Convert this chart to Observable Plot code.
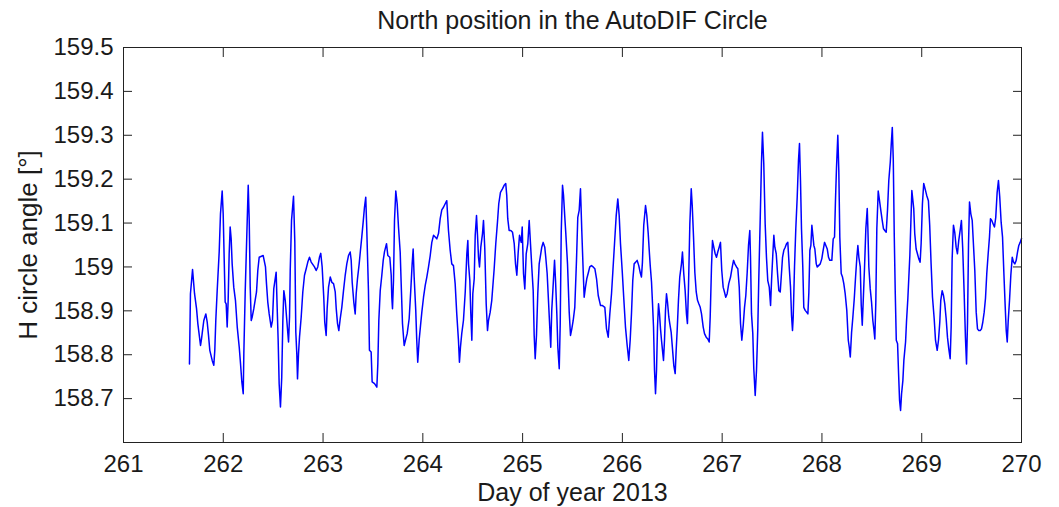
<!DOCTYPE html>
<html><head><meta charset="utf-8">
<script src="https://cdn.jsdelivr.net/npm/d3@7"></script>
<script src="https://cdn.jsdelivr.net/npm/@observablehq/plot@0.6"></script>
<style>
html,body{margin:0;padding:0;background:#fff;}
#chart svg{display:block;}
</style></head><body><div id="chart"></div>
<script>
const titleText = "North position in the AutoDIF Circle";
const xLabel = "Day of year 2013";
const yLabel = "H circle angle [°]";
const xTicks = [261, 262, 263, 264, 265, 266, 267, 268, 269, 270];
const yTicks = [158.7, 158.8, 158.9, 159.0, 159.1, 159.2, 159.3, 159.4, 159.5];

const dayOfYear = [
261.661, 261.671, 261.692, 261.712, 261.732, 261.745, 261.772, 261.782, 261.792, 261.805,
261.825, 261.839, 261.852, 261.865, 261.889, 261.905, 261.915, 261.925, 261.939, 261.959,
261.972, 261.989, 261.999, 262.009, 262.019, 262.029, 262.039, 262.049, 262.059, 262.069,
262.079, 262.089, 262.105, 262.122, 262.140, 262.160, 262.173, 262.186, 262.200, 262.206,
262.220, 262.240, 262.250, 262.260, 262.270, 262.280, 262.290, 262.306, 262.333, 262.346,
262.360, 262.400, 262.423, 262.433, 262.446, 262.460, 262.480, 262.493, 262.506, 262.530,
262.540, 262.550, 262.560, 262.573, 262.586, 262.597, 262.607, 262.621, 262.634, 262.654,
262.664, 262.671, 262.684, 262.704, 262.717, 262.727, 262.737, 262.744, 262.754, 262.764,
262.781, 262.797, 262.814, 262.831, 262.847, 262.864, 262.881, 262.914, 262.931, 262.947,
262.964, 262.977, 262.991, 263.007, 263.017, 263.031, 263.041, 263.055, 263.072, 263.088,
263.105, 263.122, 263.132, 263.145, 263.158, 263.172, 263.188, 263.205, 263.222, 263.238,
263.255, 263.272, 263.282, 263.292, 263.308, 263.322, 263.332, 263.345, 263.362, 263.375,
263.388, 263.402, 263.415, 263.428, 263.438, 263.455, 263.465, 263.482, 263.492, 263.516,
263.539, 263.549, 263.559, 263.573, 263.589, 263.603, 263.616, 263.636, 263.649, 263.669,
263.683, 263.689,
263.696, 263.706, 263.716, 263.729, 263.743, 263.756, 263.773, 263.783, 263.796, 263.813,
263.826, 263.843, 263.863, 263.879, 263.893, 263.903, 263.913, 263.929, 263.939, 263.949,
263.963, 263.977, 263.990, 264.007, 264.024, 264.040, 264.057, 264.074, 264.090, 264.107,
264.124, 264.140, 264.157, 264.174, 264.190, 264.207, 264.224, 264.240, 264.257, 264.274,
264.290, 264.307, 264.324, 264.340, 264.357, 264.367, 264.377, 264.390, 264.407, 264.425,
264.441, 264.451, 264.458, 264.471, 264.481, 264.491, 264.501, 264.515, 264.525, 264.538,
264.548, 264.558, 264.568, 264.581, 264.598, 264.608, 264.621, 264.635, 264.648, 264.658,
264.675, 264.691,
264.715, 264.731, 264.748, 264.761, 264.778, 264.798, 264.815, 264.831, 264.841, 264.851,
264.865, 264.882, 264.899, 264.916, 264.929, 264.942, 264.956, 264.969, 264.986, 264.996,
265.009, 265.022, 265.036, 265.052, 265.066, 265.079, 265.092, 265.106, 265.116, 265.126,
265.139, 265.152, 265.166, 265.179, 265.192, 265.206, 265.222, 265.232, 265.246, 265.259,
265.272, 265.282, 265.292, 265.307, 265.320, 265.330, 265.343, 265.353, 265.367, 265.377,
265.387, 265.400, 265.410, 265.423, 265.433, 265.450, 265.467, 265.480, 265.493, 265.507,
265.523, 265.540, 265.553, 265.567, 265.580, 265.593, 265.607, 265.617, 265.630, 265.643,
265.660, 265.673, 265.690, 265.707, 265.724, 265.741, 265.758,
265.781, 265.801, 265.824, 265.841, 265.858, 265.874, 265.891, 265.904, 265.921, 265.938,
265.954, 265.968, 265.981, 265.998, 266.014, 266.031, 266.048, 266.064, 266.078, 266.091,
266.104, 266.118, 266.134, 266.148, 266.164, 266.181, 266.191, 266.201, 266.214, 266.232,
266.245, 266.259, 266.269, 266.279, 266.292, 266.302, 266.312, 266.322, 266.332, 266.342,
266.352, 266.362, 266.372, 266.382, 266.392, 266.402, 266.412, 266.422, 266.432, 266.442,
266.452, 266.465, 266.475, 266.489, 266.502, 266.515, 266.529, 266.539, 266.549, 266.562,
266.575, 266.592, 266.602, 266.615, 266.629, 266.642, 266.652, 266.662, 266.676, 266.690,
266.700, 266.713, 266.726, 266.740, 266.753, 266.766, 266.780, 266.793, 266.810,
266.823, 266.840, 266.856, 266.870, 266.880, 266.893, 266.903, 266.916, 266.930, 266.943,
266.956, 266.970, 266.983, 266.996, 267.010, 267.023, 267.036, 267.050, 267.066, 267.084,
267.101, 267.114, 267.127, 267.144, 267.157, 267.171, 267.184, 267.197, 267.211, 267.224,
267.237, 267.251, 267.264, 267.277, 267.284, 267.294, 267.307, 267.317, 267.331, 267.344,
267.357, 267.367, 267.381, 267.394, 267.404, 267.417, 267.431, 267.444, 267.457, 267.472,
267.485, 267.495, 267.508, 267.518, 267.528, 267.542, 267.555, 267.568, 267.582, 267.592,
267.605, 267.618, 267.632, 267.645, 267.658, 267.672, 267.685, 267.695, 267.705, 267.712,
267.725, 267.738, 267.752, 267.765, 267.775, 267.785, 267.795, 267.808, 267.818, 267.832,
267.846, 267.859,
267.869, 267.879, 267.889, 267.899, 267.909, 267.919, 267.929, 267.943, 267.953, 267.966,
267.983, 267.999, 268.009, 268.026, 268.039, 268.053, 268.066, 268.079, 268.099, 268.113,
268.126, 268.136, 268.146, 268.159, 268.169, 268.179, 268.193, 268.206, 268.219, 268.233,
268.249, 268.264, 268.274, 268.284, 268.297, 268.310, 268.324, 268.337, 268.350, 268.360,
268.370, 268.384, 268.394, 268.404, 268.414, 268.427, 268.440, 268.454, 268.460, 268.470,
268.484, 268.497, 268.510, 268.520, 268.530, 268.540, 268.550, 268.564, 268.577, 268.590,
268.604, 268.617, 268.630, 268.644, 268.657, 268.670, 268.685, 268.695, 268.705, 268.715,
268.725, 268.735, 268.745, 268.758, 268.768, 268.778, 268.788, 268.798, 268.811, 268.821,
268.838, 268.848, 268.861, 268.881, 268.901,
268.920, 268.930, 268.944, 268.957, 268.970, 268.984, 268.994, 269.007, 269.020, 269.034,
269.050, 269.067, 269.080, 269.094, 269.108, 269.125, 269.138, 269.155, 269.168, 269.181,
269.191, 269.205, 269.218, 269.231, 269.245, 269.258, 269.271, 269.285, 269.295, 269.305,
269.318, 269.331, 269.345, 269.358, 269.371, 269.385, 269.398, 269.411, 269.425, 269.438,
269.449, 269.459, 269.469, 269.479, 269.492, 269.506, 269.519, 269.532, 269.546, 269.559,
269.572, 269.586, 269.599, 269.612, 269.626, 269.639, 269.652, 269.666, 269.679, 269.689,
269.702, 269.716, 269.729, 269.742, 269.756, 269.769, 269.782, 269.796, 269.810, 269.823,
269.837, 269.847, 269.857, 269.867, 269.880, 269.893, 269.907, 269.920, 269.933, 269.947,
269.960, 269.973, 269.987, 270.000
];

const hAngle = [
158.779, 158.939, 158.994, 158.939, 158.905, 158.871, 158.821, 158.836, 158.855, 158.878,
158.893, 158.874, 158.844, 158.810, 158.787, 158.776, 158.810, 158.878, 158.946, 159.034,
159.121, 159.173, 159.121, 159.019, 158.920, 158.916, 158.863, 158.924, 159.030, 159.091,
159.064, 159.007, 158.954, 158.924, 158.863, 158.817, 158.779, 158.738, 158.711, 158.802,
158.946, 159.106, 159.186, 159.106, 158.954, 158.878, 158.886, 158.905, 158.943, 158.992,
159.022, 159.026, 159.000, 158.962, 158.920, 158.893, 158.863, 158.878, 158.950, 158.988,
158.908, 158.833, 158.734, 158.681, 158.749, 158.878, 158.946, 158.924, 158.886, 158.829,
158.886, 158.992, 159.106, 159.161, 159.056, 158.851, 158.802, 158.745, 158.802, 158.840,
158.886, 158.943, 158.981, 158.996, 159.011, 159.022, 159.011, 159.000, 158.992, 159.000,
159.022, 159.031, 159.000, 158.931, 158.874, 158.844, 158.905, 158.954, 158.977, 158.965,
158.962, 158.943, 158.905, 158.871, 158.855, 158.882, 158.908, 158.946, 158.981, 159.007,
159.026, 159.034, 159.015, 158.965, 158.920, 158.893, 158.939, 158.973, 159.007, 159.038,
159.068, 159.102, 159.136, 159.159, 159.087, 158.946, 158.810, 158.806, 158.738, 158.734,
158.726, 158.779, 158.878, 158.946, 158.981, 159.015, 159.035, 159.053, 159.026, 159.022,
158.981, 158.931,
158.905, 158.969, 159.106, 159.173, 159.144, 159.091, 159.034, 158.962, 158.871, 158.821,
158.833, 158.848, 158.882, 158.946, 159.007, 159.041, 158.977, 158.901, 158.833, 158.783,
158.833, 158.867, 158.897, 158.931, 158.958, 158.977, 159.000, 159.026, 159.056, 159.072,
159.068, 159.064, 159.076, 159.110, 159.130, 159.136, 159.144, 159.151, 159.083, 159.038,
159.007, 159.003, 158.962, 158.893, 158.833, 158.783, 158.817, 158.848, 158.878, 158.943,
159.030, 159.060, 159.007, 158.969, 158.893, 158.833, 158.939, 158.973, 159.072, 159.117,
159.072, 159.022, 159.000, 159.045, 159.076, 159.106, 159.041, 158.916, 158.855, 158.878,
158.897, 158.924,
158.996, 159.053, 159.102, 159.144, 159.170, 159.178, 159.186, 159.190, 159.163, 159.110,
159.083, 159.083, 159.079, 159.053, 159.007, 158.981, 159.034, 159.072, 159.056, 159.091,
158.985, 158.950, 159.030, 159.053, 159.106, 159.053, 159.000, 158.946, 158.844, 158.791,
158.844, 158.939, 159.007, 159.026, 159.045, 159.056, 159.045, 159.022, 158.985, 158.924,
158.863, 158.817, 158.901, 158.962, 159.015, 158.969, 158.893, 158.817, 158.768, 158.871,
159.079, 159.186, 159.163, 159.113, 159.076, 159.007, 158.897, 158.844, 158.859, 158.878,
158.908, 159.015, 159.113, 159.129, 159.178, 159.083, 158.992, 158.931, 158.954, 158.973,
158.988, 159.000, 159.003, 159.000, 158.996, 158.973, 158.935,
158.912, 158.912, 158.908, 158.859, 158.840, 158.893, 158.939, 158.988, 159.053, 159.117,
159.155, 159.117, 159.053, 158.992, 158.928, 158.863, 158.821, 158.787, 158.833, 158.893,
158.969, 159.007, 159.011, 159.015, 159.003, 158.985, 158.977, 159.011, 159.095, 159.140,
159.117, 159.076, 159.038, 159.003, 158.965, 158.916, 158.863, 158.764, 158.711, 158.764,
158.863, 158.916, 158.893, 158.859, 158.833, 158.810, 158.787, 158.833, 158.901, 158.939,
158.920, 158.886, 158.871, 158.851, 158.814, 158.776, 158.757, 158.810, 158.855, 158.924,
158.977, 159.007, 159.034, 158.985, 158.946, 158.893, 158.871, 158.950, 159.098, 159.178,
159.140, 159.068, 158.988, 158.943, 158.924, 158.916, 158.908, 158.893, 158.863,
158.848, 158.840, 158.836, 158.829, 158.886, 159.000, 159.060, 159.045, 159.030, 159.022,
159.034, 159.045, 159.056, 158.992, 158.954, 158.943, 158.931, 158.939, 158.962, 158.977,
159.000, 159.015, 159.007, 159.000, 158.996, 158.954, 158.871, 158.833, 158.867, 158.908,
158.935, 158.988, 159.049, 159.083, 159.022, 158.893, 158.848, 158.768, 158.707, 158.764,
158.859, 158.973, 159.106, 159.239, 159.307, 159.235, 159.098, 159.022, 158.969, 158.954,
158.912, 158.969, 159.030, 159.072, 159.045, 159.030, 158.985, 158.946, 158.943, 158.977,
159.022, 159.038, 159.045, 159.053, 159.056, 159.000, 158.954, 158.890, 158.855, 158.886,
159.000, 159.087, 159.159, 159.243, 159.281, 159.197, 159.087, 159.000, 158.908, 158.901,
158.897, 158.893,
158.943, 159.038, 159.049, 159.095, 159.072, 159.049, 159.041, 159.007, 159.000, 159.003,
159.007, 159.019, 159.034, 159.056, 159.049, 159.041, 159.022, 159.015, 159.015, 159.064,
159.068, 159.155, 159.227, 159.300, 159.220, 159.068, 158.985, 158.977, 158.962, 158.939,
158.901, 158.833, 158.817, 158.795, 158.851, 158.886, 158.928, 158.977, 159.022, 159.049,
159.022, 159.000, 158.912, 158.867, 158.924, 159.000, 159.087, 159.133, 159.091, 159.000,
158.950, 158.920, 158.878, 158.859, 158.836, 158.920, 159.087, 159.173, 159.151, 159.129,
159.106, 159.087, 159.083, 159.079, 159.129, 159.197, 159.239, 159.281, 159.318, 159.243,
159.068, 158.939, 158.833, 158.825, 158.757, 158.696, 158.673, 158.711, 158.741, 158.787,
158.829, 158.878, 158.928, 159.026, 159.174,
159.133, 159.076, 159.041, 159.030, 159.019, 159.011, 159.053, 159.144, 159.190, 159.178,
159.163, 159.151, 159.095, 159.007, 158.931, 158.882, 158.833, 158.810, 158.833, 158.874,
158.924, 158.946, 158.935, 158.916, 158.882, 158.840, 158.814, 158.791, 158.863, 159.019,
159.095, 159.079, 159.045, 159.030, 159.060, 159.083, 159.106, 159.041, 158.943, 158.840,
158.779, 158.874, 159.053, 159.148, 159.121, 159.106, 159.049, 158.992, 158.897, 158.859,
158.855, 158.855, 158.859, 158.874, 158.897, 158.928, 158.985, 159.030, 159.068, 159.110,
159.106, 159.098, 159.091, 159.113, 159.170, 159.197, 159.159, 159.102, 159.068, 158.988,
158.908, 158.855, 158.829, 158.878, 158.924, 158.981, 159.022, 159.011, 159.007, 159.015,
159.034, 159.049, 159.056, 159.065
];

const n = Math.min(dayOfYear.length, hAngle.length);
const series = d3.range(n).map(i => ({day: dayOfYear[i], angle: hAngle[i]}));

const font = "'Liberation Sans', Arial, Helvetica, sans-serif";
const ink = "#1a1a1a";
const axisInk = "#222";

const chart = Plot.plot({
  width: 1059,
  height: 507,
  marginLeft: 123,
  marginRight: 38,
  marginTop: 47,
  marginBottom: 65,
  style: {fontFamily: font, background: "#fff", color: ink, overflow: "visible"},
  x: {domain: [261, 270]},
  y: {domain: [158.6, 159.5]},
  marks: [
    Plot.line(series, {x: "day", y: "angle", stroke: "#0000ff", strokeWidth: 1.5}),
    Plot.frame({stroke: axisInk, strokeWidth: 1}),
    Plot.axisX(xTicks, {anchor: "bottom", tickSize: -9, fill: "none", stroke: axisInk, label: null}),
    Plot.axisX(xTicks, {anchor: "top", tickSize: -9, fill: "none", stroke: axisInk, label: null}),
    Plot.axisY(yTicks, {anchor: "left", tickSize: -9, fill: "none", stroke: axisInk, label: null}),
    Plot.axisY(yTicks, {anchor: "right", tickSize: -9, fill: "none", stroke: axisInk, label: null}),
    Plot.axisX(xTicks, {anchor: "bottom", tickSize: 0, tickPadding: 12, fontSize: 24, fill: ink, label: null, tickFormat: d => String(d)}),
    Plot.axisY(yTicks, {anchor: "left", tickSize: 0, tickPadding: 10, fontSize: 24, fill: ink, label: null, tickFormat: d => String(+d.toFixed(1))}),
    Plot.text([titleText], {text: d => d, frameAnchor: "top", dy: -19, lineAnchor: "bottom", textAnchor: "middle", fontSize: 25, fill: ink}),
    Plot.text([xLabel], {text: d => d, frameAnchor: "bottom", dy: 58, lineAnchor: "bottom", textAnchor: "middle", fontSize: 25, fill: ink}),
    Plot.text([yLabel], {text: d => d, frameAnchor: "left", dx: -87, rotate: -90, lineAnchor: "bottom", textAnchor: "middle", fontSize: 26, fill: ink})
  ]
});
document.getElementById("chart").appendChild(chart);
</script>
</body></html>
